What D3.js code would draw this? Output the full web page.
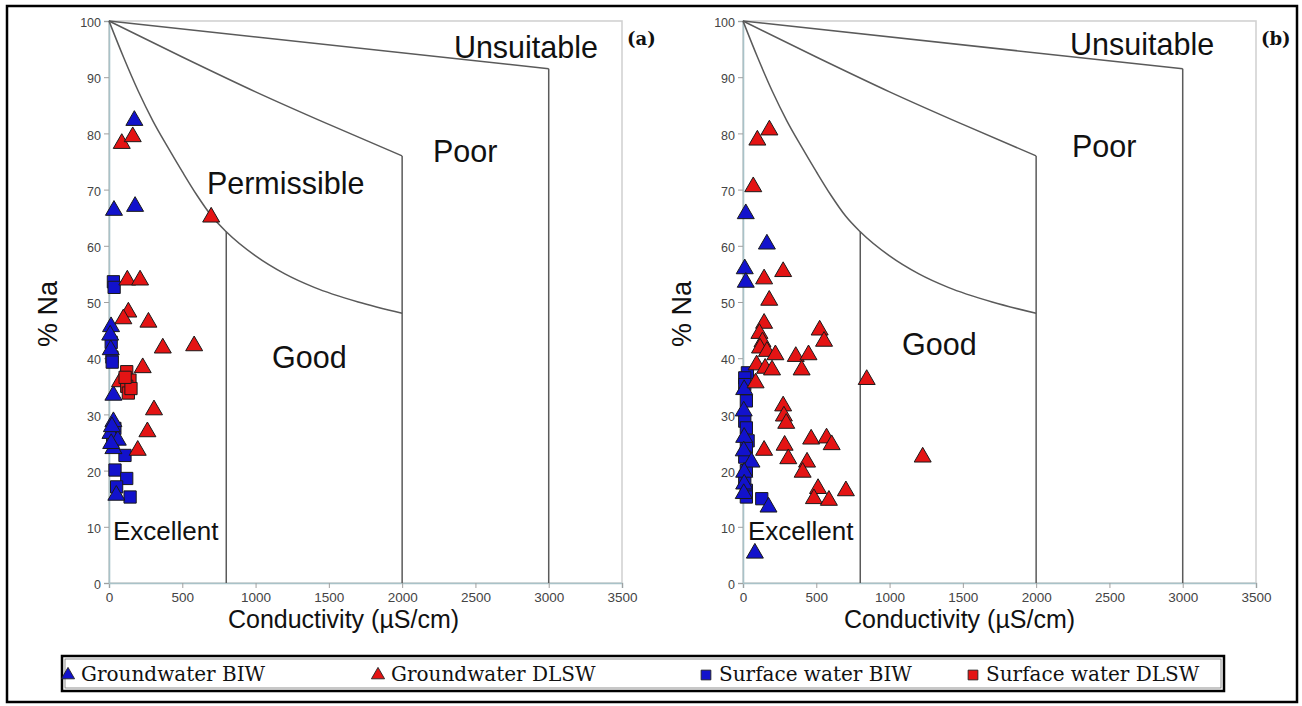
<!DOCTYPE html>
<html>
<head>
<meta charset="utf-8">
<script src="https://cdn.jsdelivr.net/npm/d3@7"></script>
<style>
  body { margin: 0; background: #fff; }
  svg { display: block; }
</style>
</head>
<body>
<svg id="chart" width="1302" height="706"></svg>
<script>
// Wilcox diagram: % Na against electrical conductivity for two sampling campaigns.

// ---- axis ticks ----
const xTicks = [0, 500, 1000, 1500, 2000, 2500, 3000, 3500];
const yTicks = [0, 10, 20, 30, 40, 50, 60, 70, 80, 90, 100];

// ---- class boundaries (conductivity µS/cm, % Na) ----
const boundaryExcellentGood = [[0,100],[100,93.5],[200,87.5],[300,82.2],[400,77.6],[500,73.2],[600,69],[700,65.3],[800,62.5],[1000,58.2],[1200,55],[1400,52.6],[1700,50],[2000,48]];
const boundaryGoodPoor = [[0,100],[500,93.6],[1000,87.4],[1500,81.6],[2000,76]];
const boundaryPoorUnsuitable = [[0,100],[3000,91.5]];
const dividerLines = [[800, 62.5], [2000, 76], [3000, 91.5]];

// ---- zone names ----
const zoneNamesA = ["Unsuitable", "Poor", "Permissible", "Good", "Excellent"];
const zoneNamesB = ["Unsuitable", "Poor", "Good", "Excellent"];

// ---- series names ----
const seriesNames = ["Groundwater BIW", "Groundwater DLSW", "Surface water BIW", "Surface water DLSW"];

// ---- panel (a) samples: [conductivity, % Na] ----
const gwBIW_a = [[173,82.3],[34,66.3],[178,67.0],[14,45.6],[8,44.1],[12,41.5],[30,33.4],[30,28.7],[10,26.6],[60,25.4],[30,23.9],[15,24.8],[50,15.6],[20,27.8]];
const gwDLSW_a = [[87,78.2],[162,79.4],[697,65.1],[125,53.9],[212,53.9],[132,48.2],[98,47.0],[269,46.4],[367,41.8],[581,42.2],[230,38.3],[307,30.8],[262,26.9],[196,23.6],[75,35.8]];
const swBIW_a = [[30,53.6],[35,52.6],[15,42.8],[20,40.2],[22,39.3],[40,27.5],[109,22.7],[41,20.1],[121,18.6],[52,17.1],[144,15.3],[25,25.2]];
const swDLSW_a = [[121,37.6],[143,36.1],[121,35.0],[132,33.8],[150,34.6],[110,36.6]];

// ---- panel (b) samples: [conductivity, % Na] ----
const gwBIW_b = [[19,65.7],[163,60.3],[12,55.9],[19,53.5],[81,5.3],[174,13.5],[8,34.4],[5,30.6],[8,25.9],[5,23.5],[58,21.5],[8,19.7],[8,17.6],[5,15.9]];
const gwDLSW_b = [[98,78.8],[180,80.6],[70,70.5],[274,55.4],[144,54.1],[179,50.3],[144,46.2],[112,44.4],[133,42.9],[523,45.0],[553,43.0],[116,41.8],[163,41.2],[221,40.6],[93,38.8],[151,38.2],[198,37.9],[360,40.3],[447,40.6],[400,37.9],[86,35.6],[844,36.2],[274,31.5],[279,29.7],[295,28.4],[144,23.6],[284,24.5],[309,22.1],[465,25.6],[570,25.8],[605,24.6],[437,21.5],[407,19.7],[512,16.8],[484,15.0],[586,14.7],[702,16.4],[1226,22.4]];
const swBIW_b = [[30,37.4],[12,36.5],[12,35.3],[23,32.4],[12,28.8],[23,27.6],[35,25.3],[23,24.1],[12,22.4],[23,20.0],[12,18.2],[23,16.5],[23,15.3],[128,15.0]];
const swDLSW_b = [];

// ---- drawing ----
const svg = d3.select("#chart");
const W = 1302, H = 706;
svg.append("rect").attr("width", W).attr("height", H).attr("fill", "#fff");
svg.append("rect")
  .attr("x", 7).attr("y", 6).attr("width", 1290).attr("height", 696)
  .attr("fill", "none").attr("stroke", "#000").attr("stroke-width", 2.5);

const colors = { blue: "#1212cc", red: "#e41414" };
const triangle = d3.symbol().type(d3.symbolTriangle).size(125);
const square = d3.symbol().type(d3.symbolSquare).size(150);

const panels = [
  {
    tag: "(a)", left: 109,
    series: [
      { data: swBIW_a, shape: square, fill: colors.blue },
      { data: gwBIW_a, shape: triangle, fill: colors.blue },
      { data: gwDLSW_a, shape: triangle, fill: colors.red },
      { data: swDLSW_a, shape: square, fill: colors.red }
    ],
    zones: zoneNamesA,
    zoneAt: { "Unsuitable": [2353, 93.4, 30.5], "Poor": [2210, 74.9, 30.5], "Permissible": [668, 69.2, 30.5], "Good": [1112, 38.3, 30.5], "Excellent": [27, 7.7, 26] },
    titleShift: -22
  },
  {
    tag: "(b)", left: 743,
    series: [
      { data: swBIW_b, shape: square, fill: colors.blue },
      { data: gwBIW_b, shape: triangle, fill: colors.blue },
      { data: gwDLSW_b, shape: triangle, fill: colors.red },
      { data: swDLSW_b, shape: square, fill: colors.red }
    ],
    zones: zoneNamesB,
    zoneAt: { "Unsuitable": [2231, 94.0, 30.5], "Poor": [2244, 75.8, 30.5], "Good": [1085, 40.6, 30.5], "Excellent": [34, 7.7, 26] },
    titleShift: -40
  }
];

panels.forEach(p => {
  const x = d3.scaleLinear().domain([0, 3500]).range([p.left, p.left + 513]);
  const y = d3.scaleLinear().domain([0, 100]).range([583, 21]);
  const g = svg.append("g");

  // plot frame (top and right)
  g.append("rect")
    .attr("x", x(0)).attr("y", y(100))
    .attr("width", x(3500) - x(0)).attr("height", y(0) - y(100))
    .attr("fill", "#fff").attr("stroke", "#d2d2d2").attr("stroke-width", 1.6);

  // axes
  const xAxis = g.append("g").attr("transform", `translate(0,${y(0)})`)
    .call(d3.axisBottom(x).tickValues(xTicks).tickSize(5).tickPadding(4).tickFormat(d3.format("d")));
  const yAxis = g.append("g").attr("transform", `translate(${x(0)},0)`)
    .call(d3.axisLeft(y).tickValues(yTicks).tickSize(5).tickPadding(3).tickFormat(d3.format("d")));
  [xAxis, yAxis].forEach(a => {
    a.select(".domain").attr("stroke", "#a9c2c8").attr("stroke-width", 1.6);
    a.selectAll(".tick line").attr("stroke", "#a0a0a0");
    a.selectAll(".tick text")
      .attr("fill", "#444").attr("font-family", "Liberation Sans, Arial, sans-serif");
  });
  xAxis.selectAll(".tick text").attr("font-size", 13.5);
  yAxis.selectAll(".tick text").attr("font-size", 12.5).attr("dy", "0.45em");

  // class boundaries
  const line = d3.line().x(d => x(d[0])).y(d => y(d[1])).curve(d3.curveMonotoneX);
  [boundaryExcellentGood, boundaryGoodPoor, boundaryPoorUnsuitable].forEach(b => {
    g.append("path").attr("d", line(b))
      .attr("fill", "none").attr("stroke", "#5a5a5a").attr("stroke-width", 1.5);
  });
  dividerLines.forEach(([cx, top]) => {
    g.append("line")
      .attr("x1", x(cx)).attr("x2", x(cx))
      .attr("y1", y(top)).attr("y2", y(0))
      .attr("stroke", "#5a5a5a").attr("stroke-width", 1.5);
  });

  // zone names
  p.zones.forEach(name => {
    const [cx, cy, fs] = p.zoneAt[name];
    g.append("text").attr("x", x(cx)).attr("y", y(cy))
      .attr("font-family", "Liberation Sans, Arial, sans-serif")
      .attr("font-size", fs).attr("fill", "#111").text(name);
  });

  // samples
  p.series.forEach(s => {
    g.append("g").selectAll("path").data(s.data).join("path")
      .attr("transform", d => `translate(${x(d[0])},${y(d[1])})`)
      .attr("d", s.shape)
      .attr("fill", s.fill)
      .attr("stroke", "#1a1a1a").attr("stroke-width", 1);
  });

  // panel tag
  g.append("text").attr("x", x(3500) + 5).attr("y", 45)
    .attr("font-family", "DejaVu Serif, serif").attr("font-weight", "bold")
    .attr("font-size", 18).attr("fill", "#111").text(p.tag);

  // axis titles
  g.append("text")
    .attr("x", (x(0) + x(3500)) / 2 + p.titleShift).attr("y", 628)
    .attr("text-anchor", "middle")
    .attr("font-family", "Liberation Sans, Arial, sans-serif")
    .attr("font-size", 25).attr("fill", "#111")
    .text("Conductivity (µS/cm)");
  g.append("text")
    .attr("transform", `translate(${x(0) - 52},${y(50) + 12}) rotate(-90)`)
    .attr("text-anchor", "middle")
    .attr("font-family", "Liberation Sans, Arial, sans-serif")
    .attr("font-size", 27).attr("fill", "#111")
    .text("% Na");
});

// ---- legend ----
const legend = svg.append("g");
legend.append("rect").attr("x", 62).attr("y", 656).attr("width", 1162).attr("height", 35)
  .attr("fill", "#fff").attr("stroke", "#000").attr("stroke-width", 2.5);
legend.append("rect").attr("x", 65).attr("y", 659).attr("width", 1156).attr("height", 29)
  .attr("fill", "none").attr("stroke", "#777").attr("stroke-width", 0.8);

const legendX = [68, 378, 706, 973];
const legendShapes = [
  { shape: d3.symbol().type(d3.symbolTriangle).size(75), fill: colors.blue },
  { shape: d3.symbol().type(d3.symbolTriangle).size(75), fill: colors.red },
  { shape: d3.symbol().type(d3.symbolSquare).size(95), fill: colors.blue },
  { shape: d3.symbol().type(d3.symbolSquare).size(95), fill: colors.red }
];
seriesNames.forEach((name, i) => {
  legend.append("path")
    .attr("transform", `translate(${legendX[i]},${675})`)
    .attr("d", legendShapes[i].shape)
    .attr("fill", legendShapes[i].fill).attr("stroke", "#222").attr("stroke-width", 0.9);
  legend.append("text")
    .attr("x", legendX[i] + 13).attr("y", 681)
    .attr("font-family", "DejaVu Serif, serif").attr("font-size", 20)
    .attr("fill", "#111").text(name);
});
</script>
</body>
</html>
